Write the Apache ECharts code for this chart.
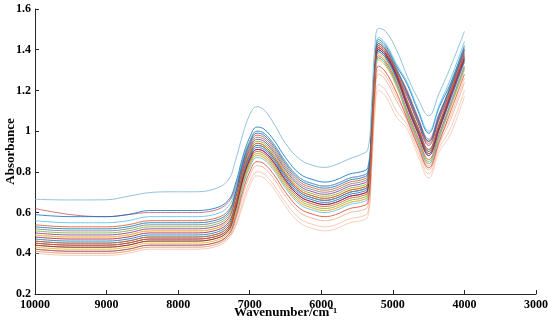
<!DOCTYPE html>
<html>
<head>
<meta charset="utf-8">
<script src="https://cdn.jsdelivr.net/npm/echarts@6/dist/echarts.min.js"></script>
<style>html,body{margin:0;padding:0;background:#fff;}#c{width:550px;height:331px;}</style>
</head>
<body>
<div id="c"></div>
<script>
// Wavenumber sample positions (cm^-1)
const wavenumbers = [10000,9500,9000,8700,8400,8100,7800,7500,7300,7200,7100,7000,6900,6800,6650,6500,6300,6100,5950,5800,5600,5450,5350,5300,5250,5200,5100,4950,4800,4650,4500,4350,4200,4000];

// Absorbance spectra
const s00 = [0.665,0.662,0.663,0.68,0.698,0.702,0.702,0.715,0.76,0.855,0.98,1.08,1.12,1.105,1.03,0.94,0.862,0.83,0.822,0.835,0.865,0.885,0.91,1.12,1.42,1.505,1.49,1.40,1.27,1.16,1.075,1.19,1.31,1.49];
const s01 = [0.62,0.59,0.58,0.59,0.60,0.60,0.60,0.61,0.65,0.725,0.85,0.95,1.00,0.99,0.93,0.85,0.77,0.74,0.73,0.74,0.77,0.78,0.80,1.015,1.32,1.43,1.40,1.30,1.20,1.07,0.96,1.09,1.21,1.40];
const s02 = [0.59,0.58,0.58,0.59,0.61,0.61,0.61,0.62,0.66,0.74,0.87,0.97,1.02,1.01,0.95,0.87,0.79,0.76,0.75,0.76,0.79,0.80,0.82,1.035,1.34,1.45,1.42,1.32,1.23,1.10,0.99,1.12,1.23,1.42];
const s03 = [0.56,0.55,0.55,0.56,0.58,0.58,0.58,0.59,0.63,0.715,0.85,0.95,1.00,0.99,0.93,0.85,0.77,0.74,0.73,0.74,0.77,0.78,0.80,1.03,1.35,1.46,1.43,1.33,1.24,1.11,1.00,1.13,1.25,1.44];
const s04 = [0.54,0.53,0.53,0.54,0.56,0.56,0.56,0.57,0.61,0.695,0.83,0.93,0.98,0.97,0.91,0.83,0.75,0.72,0.71,0.72,0.75,0.76,0.78,1.00,1.31,1.42,1.39,1.29,1.18,1.05,0.94,1.07,1.20,1.39];
const s05 = [0.52,0.51,0.51,0.52,0.54,0.54,0.54,0.55,0.59,0.68,0.82,0.92,0.97,0.96,0.90,0.82,0.74,0.71,0.70,0.71,0.74,0.75,0.77,1.005,1.33,1.44,1.41,1.31,1.19,1.06,0.95,1.08,1.22,1.41];
const s06 = [0.51,0.50,0.50,0.51,0.53,0.53,0.53,0.54,0.58,0.665,0.80,0.90,0.95,0.94,0.88,0.80,0.72,0.69,0.68,0.69,0.72,0.73,0.75,0.975,1.29,1.40,1.37,1.27,1.15,1.02,0.91,1.04,1.18,1.37];
const s07 = [0.50,0.49,0.49,0.50,0.52,0.52,0.52,0.53,0.57,0.665,0.81,0.91,0.96,0.95,0.89,0.81,0.73,0.70,0.69,0.70,0.73,0.74,0.76,0.985,1.30,1.41,1.38,1.28,1.17,1.04,0.93,1.06,1.19,1.38];
const s08 = [0.49,0.48,0.48,0.49,0.51,0.51,0.51,0.52,0.56,0.65,0.79,0.89,0.94,0.93,0.87,0.79,0.71,0.68,0.67,0.68,0.71,0.72,0.74,0.96,1.27,1.38,1.35,1.25,1.13,1.00,0.89,1.02,1.16,1.35];
const s09 = [0.48,0.47,0.47,0.48,0.50,0.50,0.50,0.51,0.55,0.64,0.78,0.88,0.93,0.92,0.86,0.78,0.70,0.67,0.66,0.67,0.70,0.71,0.73,0.965,1.29,1.40,1.37,1.27,1.14,1.01,0.90,1.03,1.17,1.36];
const s10 = [0.47,0.46,0.46,0.47,0.49,0.49,0.49,0.50,0.54,0.63,0.77,0.87,0.92,0.91,0.85,0.77,0.69,0.66,0.65,0.66,0.69,0.70,0.72,0.955,1.28,1.39,1.36,1.26,1.12,0.99,0.88,1.01,1.15,1.34];
const s11 = [0.46,0.45,0.45,0.46,0.48,0.48,0.48,0.49,0.53,0.63,0.78,0.88,0.93,0.92,0.86,0.78,0.70,0.67,0.66,0.67,0.70,0.71,0.73,0.96,1.28,1.39,1.36,1.26,1.14,1.01,0.90,1.03,1.16,1.35];
const s12 = [0.46,0.45,0.45,0.46,0.48,0.48,0.48,0.49,0.53,0.615,0.75,0.85,0.90,0.89,0.83,0.75,0.67,0.64,0.63,0.64,0.67,0.68,0.70,0.935,1.26,1.37,1.34,1.24,1.10,0.97,0.86,0.99,1.13,1.32];
const s13 = [0.45,0.44,0.44,0.45,0.47,0.47,0.47,0.48,0.52,0.615,0.76,0.86,0.91,0.90,0.84,0.76,0.68,0.65,0.64,0.65,0.68,0.69,0.71,0.955,1.29,1.40,1.37,1.27,1.12,0.99,0.88,1.01,1.16,1.35];
const s14 = [0.44,0.43,0.43,0.44,0.46,0.46,0.46,0.47,0.51,0.60,0.74,0.84,0.89,0.88,0.82,0.74,0.66,0.63,0.62,0.63,0.66,0.67,0.69,0.925,1.25,1.36,1.33,1.23,1.09,0.96,0.85,0.98,1.12,1.31];
const s15 = [0.44,0.43,0.43,0.44,0.46,0.46,0.46,0.47,0.51,0.61,0.76,0.86,0.91,0.90,0.84,0.76,0.68,0.65,0.64,0.65,0.68,0.69,0.71,0.96,1.30,1.41,1.38,1.28,1.13,1.00,0.89,1.02,1.17,1.36];
const s16 = [0.43,0.42,0.42,0.43,0.45,0.45,0.45,0.46,0.50,0.59,0.73,0.83,0.88,0.87,0.81,0.73,0.65,0.62,0.61,0.62,0.65,0.66,0.68,0.915,1.24,1.35,1.32,1.22,1.08,0.95,0.84,0.97,1.11,1.30];
const s17 = [0.42,0.41,0.41,0.42,0.44,0.44,0.44,0.45,0.49,0.58,0.72,0.82,0.87,0.86,0.80,0.72,0.64,0.61,0.60,0.61,0.64,0.65,0.67,0.915,1.25,1.36,1.33,1.23,1.08,0.95,0.84,0.97,1.12,1.31];
const s18 = [0.42,0.41,0.41,0.42,0.44,0.44,0.44,0.45,0.49,0.57,0.70,0.80,0.85,0.84,0.78,0.70,0.62,0.59,0.58,0.59,0.62,0.63,0.65,0.885,1.21,1.32,1.29,1.19,1.06,0.93,0.82,0.95,1.09,1.28];
const s19 = [0.41,0.40,0.40,0.41,0.43,0.43,0.43,0.44,0.48,0.555,0.68,0.78,0.83,0.82,0.76,0.68,0.60,0.57,0.56,0.57,0.60,0.61,0.63,0.855,1.17,1.28,1.25,1.15,1.05,0.92,0.81,0.94,1.05,1.24];
const s20 = [0.40,0.39,0.39,0.40,0.42,0.42,0.42,0.43,0.47,0.535,0.65,0.75,0.80,0.79,0.73,0.65,0.57,0.54,0.53,0.54,0.57,0.58,0.60,0.815,1.12,1.23,1.20,1.10,1.03,0.90,0.79,0.92,1.01,1.20];
const s21 = [0.41,0.40,0.40,0.41,0.43,0.43,0.43,0.44,0.48,0.53,0.63,0.73,0.78,0.77,0.71,0.63,0.55,0.52,0.51,0.52,0.55,0.56,0.58,0.79,1.09,1.20,1.17,1.07,1.01,0.88,0.77,0.90,0.98,1.17];
const s22 = [0.49,0.48,0.48,0.49,0.51,0.51,0.51,0.52,0.56,0.62,0.73,0.83,0.88,0.87,0.81,0.73,0.65,0.62,0.61,0.62,0.65,0.66,0.68,0.89,1.19,1.30,1.27,1.17,1.07,0.94,0.83,0.96,1.07,1.26];
const s23 = [0.53,0.52,0.52,0.53,0.55,0.55,0.55,0.56,0.60,0.695,0.84,0.94,0.99,0.98,0.92,0.84,0.76,0.73,0.72,0.73,0.76,0.77,0.79,1.01,1.32,1.43,1.40,1.30,1.19,1.06,0.95,1.08,1.21,1.40];
const s24 = [0.45,0.44,0.44,0.45,0.47,0.47,0.47,0.48,0.52,0.63,0.79,0.89,0.94,0.93,0.87,0.79,0.71,0.68,0.67,0.68,0.71,0.72,0.74,0.98,1.31,1.42,1.39,1.29,1.15,1.02,0.91,1.04,1.18,1.37];

const spectra = [s21,s20,s19,s22,s01,s02,s03,s04,s05,s06,s07,s08,s09,s10,s11,s12,s13,s14,s15,s16,s17,s18,s23,s24,s00];
const colors  = ['#F1A987','#EEA07C','#E9906C','#E99A78','#C8485E','#0072BD','#4DBEEE','#D95319','#6F6F6F','#77AC30','#7E2F8E','#EDB120','#A2142F','#0072BD','#29A6C9','#D95319','#7E2F8E','#77AC30','#A2142F','#EDB120','#4DBEEE','#E0402A','#0072BD','#D95319','#8CC0DA'];
const opac    = [0.55,0.55,0.6,0.55,0.75,0.8,0.8,0.8,0.75,0.8,0.8,0.85,0.8,0.8,0.8,0.85,0.8,0.8,0.8,0.85,0.8,0.8,0.8,0.85,0.95];

const yTicks = [0.2,0.4,0.6,0.8,1,1.2,1.4,1.6];

const font = 'Liberation Serif, "Times New Roman", serif';
const series = spectra.map((vals, i) => ({
  type: 'line',
  data: wavenumbers.map((w, j) => [w, vals[j]]),
  showSymbol: false,
  smooth: 0.4,
  silent: true,
  lineStyle: { width: 1, color: colors[i], opacity: opac[i] },
  z: 2
}));

const chart = echarts.init(document.getElementById('c'), null, { renderer: 'canvas' });
chart.setOption({
  animation: false,
  backgroundColor: '#ffffff',
  grid: { left: 35, right: 14, top: 9, bottom: 37, containLabel: false, outerBoundsMode: 'none' },
  xAxis: {
    type: 'value', inverse: true, min: 3000, max: 10000, interval: 1000,
    name: 'Wavenumber/cm\u207B\u00B9', nameLocation: 'middle', nameGap: 12, nameMoveOverlap: false,
    nameTextStyle: { fontFamily: font, fontWeight: 'bold', fontSize: 13, color: '#000' },
    axisLine: { show: true, lineStyle: { color: '#262626', width: 1 } },
    axisTick: { show: true, inside: true, length: 4, lineStyle: { color: '#262626' } },
    axisLabel: { fontFamily: font, fontWeight: 'bold', fontSize: 12, color: '#000', margin: 5,
      formatter: v => String(Math.round(v)) },
    splitLine: { show: false }
  },
  yAxis: {
    type: 'value', min: 0.2, max: 1.6, interval: 0.2,
    name: 'Absorbance', nameLocation: 'middle', nameGap: 18, nameMoveOverlap: false,
    nameTextStyle: { fontFamily: font, fontWeight: 'bold', fontSize: 13, color: '#000' },
    axisLine: { show: true, lineStyle: { color: '#262626', width: 1 } },
    axisTick: { show: true, inside: true, length: 4, lineStyle: { color: '#262626' } },
    axisLabel: { fontFamily: font, fontWeight: 'bold', fontSize: 12, color: '#000', margin: 4,
      formatter: v => { const t = yTicks.find(k => Math.abs(k - v) < 1e-6); return t === undefined ? '' : String(t); } },
    splitLine: { show: false }
  },
  series: series
});
</script>
</body>
</html>
